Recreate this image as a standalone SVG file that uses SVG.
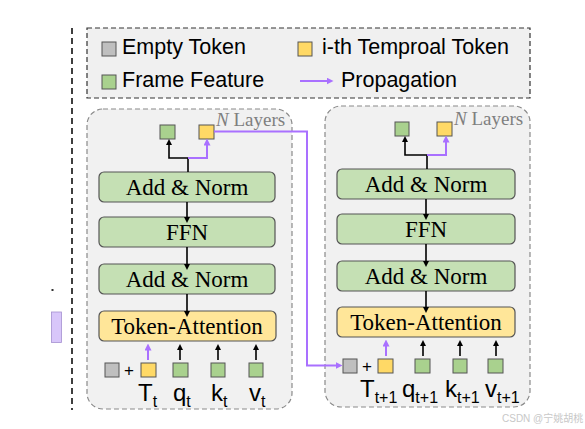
<svg xmlns="http://www.w3.org/2000/svg" width="585" height="429" viewBox="0 0 585 429">
<style>
.lg{font-family:"Liberation Sans",Arial,sans-serif;font-size:21.5px;fill:#000}
.bx{font-family:"Liberation Serif","Times New Roman",serif;font-size:23px;fill:#000;text-anchor:middle}
.nl{font-family:"Liberation Serif","Times New Roman",serif;font-size:19px;fill:#7f7f7f}
.tk{font-family:"Liberation Sans",Arial,sans-serif;font-size:24px;fill:#000}
.pl{font-family:"Liberation Sans",Arial,sans-serif;font-size:17px;fill:#000}
.sb{font-size:16px}
.g{fill:#a9d18e;stroke:#555;stroke-width:1}
.y{fill:#ffd966;stroke:#555;stroke-width:1}
.e{fill:#bfbfbf;stroke:#555;stroke-width:1}
.gb{fill:#c5e0b4;stroke:#555;stroke-width:1.2}
.yb{fill:#ffe699;stroke:#555;stroke-width:1.2}
.layer{fill:#f1f1f1;stroke:#8a8a8a;stroke-width:1.2;stroke-dasharray:5 3}
.k{fill:none;stroke:#000;stroke-width:1.6}
.p{fill:none;stroke:#a970ff;stroke-width:2}
</style>
<defs>
<marker id="ak" markerWidth="6" markerHeight="6" refX="3" refY="3" orient="auto" markerUnits="userSpaceOnUse"><path d="M0,0 L6,3 L0,6 z" fill="#000"/></marker>
<marker id="ap" markerWidth="7" markerHeight="7" refX="3.5" refY="3.5" orient="auto" markerUnits="userSpaceOnUse"><path d="M0,0 L7,3.5 L0,7 z" fill="#a970ff"/></marker>
</defs>
<rect width="585" height="429" fill="#fff"/>
<line x1="72" y1="28" x2="72" y2="410" stroke="#000" stroke-width="1.5" stroke-dasharray="6 4"/>
<rect x="51.5" y="289" width="2" height="2" fill="#333"/>
<rect x="51.5" y="312" width="10" height="30.5" fill="#d8c6fa" stroke="#a58fd0" stroke-width="0.8"/>
<g id="legend">
<rect x="87" y="28" width="443" height="70" fill="#f0f0f0" stroke="#333" stroke-width="1.2" stroke-dasharray="5 3"/>
<rect class="e" x="102" y="42" width="14" height="14"/>
<text class="lg" x="122" y="54">Empty Token</text>
<rect class="g" x="102" y="75" width="14" height="14"/>
<text class="lg" x="122" y="87">Frame Feature</text>
<rect class="y" x="298" y="42" width="14" height="14"/>
<text class="lg" x="322" y="54">i-th Temproal Token</text>
<line class="p" x1="300" y1="81" x2="330" y2="81" marker-end="url(#ap)"/>
<text class="lg" x="341" y="87">Propagation</text>
</g>
<g id="layer1">
<rect class="layer" x="87" y="109" width="205" height="300" rx="16"/>
<text class="nl" x="216" y="126"><tspan font-style="italic">N</tspan> Layers</text>
<rect class="g" x="160" y="125" width="15" height="14"/>
<rect class="y" x="199" y="125" width="15" height="14"/>
<rect class="gb" x="99" y="172" width="176" height="30" rx="5"/>
<text class="bx" x="187" y="195">Add &amp; Norm</text>
<rect class="gb" x="99" y="217" width="176" height="30" rx="5"/>
<text class="bx" x="187" y="240">FFN</text>
<rect class="gb" x="99" y="264" width="176" height="30" rx="5"/>
<text class="bx" x="187" y="287">Add &amp; Norm</text>
<rect class="yb" x="99" y="311" width="177" height="30" rx="5"/>
<text class="bx" x="187" y="334">Token-Attention</text>
<rect class="e" x="105" y="363" width="14" height="14"/>
<text class="pl" x="124" y="376">+</text>
<rect class="y" x="141" y="363" width="15" height="14"/>
<rect class="g" x="173" y="363" width="15" height="14"/>
<rect class="g" x="211" y="363" width="14" height="14"/>
<rect class="g" x="249" y="363" width="14" height="14"/>
<text class="tk" x="138" y="401">T<tspan class="sb" dy="6">t</tspan></text>
<text class="tk" x="173" y="401">q<tspan class="sb" dy="6">t</tspan></text>
<text class="tk" x="211" y="401">k<tspan class="sb" dy="6">t</tspan></text>
<text class="tk" x="249" y="401">v<tspan class="sb" dy="6">t</tspan></text>
</g>
<g id="layer2">
<rect class="layer" x="325" y="106" width="205" height="301" rx="16"/>
<text class="nl" x="454" y="125"><tspan font-style="italic">N</tspan> Layers</text>
<rect class="g" x="395" y="122" width="14" height="14"/>
<rect class="y" x="437" y="122" width="15" height="14"/>
<rect class="gb" x="337" y="169" width="178" height="30" rx="5"/>
<text class="bx" x="426" y="192">Add &amp; Norm</text>
<rect class="gb" x="337" y="214" width="178" height="30" rx="5"/>
<text class="bx" x="426" y="237">FFN</text>
<rect class="gb" x="337" y="261" width="178" height="30" rx="5"/>
<text class="bx" x="426" y="284">Add &amp; Norm</text>
<rect class="yb" x="337" y="307" width="178" height="30" rx="5"/>
<text class="bx" x="426" y="330">Token-Attention</text>
<rect class="e" x="343" y="359" width="14" height="14"/>
<text class="pl" x="362" y="372">+</text>
<rect class="y" x="378" y="359" width="15" height="14"/>
<rect class="g" x="415" y="359" width="15" height="14"/>
<rect class="g" x="453" y="359" width="14" height="14"/>
<rect class="g" x="488" y="359" width="15" height="14"/>
<text class="tk" x="360" y="397">T<tspan class="sb" dy="6">t+1</tspan></text>
<text class="tk" x="402" y="397">q<tspan class="sb" dy="6">t+1</tspan></text>
<text class="tk" x="445" y="397">k<tspan class="sb" dy="6">t+1</tspan></text>
<text class="tk" x="485" y="397">v<tspan class="sb" dy="6">t+1</tspan></text>
</g>
<g id="connectors">
<line class="k" x1="187" y1="202" x2="187" y2="220" marker-end="url(#ak)"/>
<line class="k" x1="187" y1="247" x2="187" y2="267" marker-end="url(#ak)"/>
<line class="k" x1="187" y1="294" x2="187" y2="314" marker-end="url(#ak)"/>
<polyline class="k" points="188,172 188,158 169,158 169,142" marker-end="url(#ak)"/>
<polyline class="p" points="188,158 207,158 207,142" marker-end="url(#ap)"/>
<line class="p" x1="148" y1="360" x2="148" y2="347" marker-end="url(#ap)"/>
<line class="k" x1="180" y1="360" x2="180" y2="347" marker-end="url(#ak)"/>
<line class="k" x1="218" y1="360" x2="218" y2="347" marker-end="url(#ak)"/>
<line class="k" x1="256" y1="360" x2="256" y2="347" marker-end="url(#ak)"/>
<line class="k" x1="426" y1="199" x2="426" y2="217" marker-end="url(#ak)"/>
<line class="k" x1="426" y1="244" x2="426" y2="264" marker-end="url(#ak)"/>
<line class="k" x1="426" y1="291" x2="426" y2="310" marker-end="url(#ak)"/>
<polyline class="k" points="427,169 427,155 405,155 405,139" marker-end="url(#ak)"/>
<polyline class="p" points="427,155 446,155 446,139" marker-end="url(#ap)"/>
<line class="p" x1="386" y1="356" x2="386" y2="343" marker-end="url(#ap)"/>
<line class="k" x1="423" y1="356" x2="423" y2="343" marker-end="url(#ak)"/>
<line class="k" x1="460" y1="356" x2="460" y2="343" marker-end="url(#ak)"/>
<line class="k" x1="496" y1="356" x2="496" y2="343" marker-end="url(#ak)"/>
<polyline class="p" points="214,131.5 307,131.5 307,365.5 339,365.5" marker-end="url(#ap)"/>
</g>
<text x="502" y="422" font-family="'Liberation Sans','Noto Sans CJK SC',sans-serif" font-size="10" fill="#c8c8c8">CSDN @宁姚胡桃</text>
</svg>
